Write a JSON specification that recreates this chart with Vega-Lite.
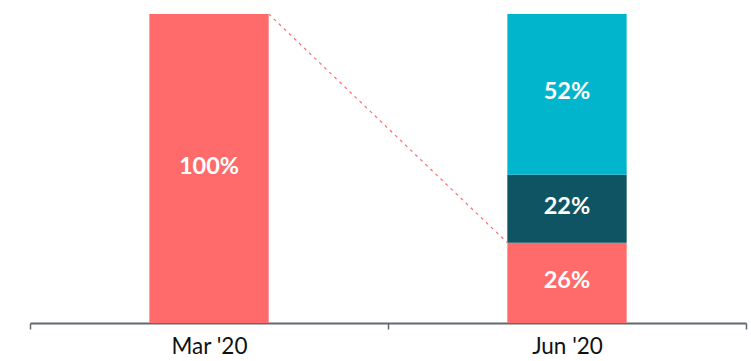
{
  "$schema": "https://vega.github.io/schema/vega-lite/v6.json",
  "width": 716,
  "height": 309,
  "autosize": {"type": "none"},
  "padding": {"left": 30, "top": 14, "right": 5, "bottom": 38},
  "background": "white",
  "config": {"view": {"stroke": null}, "font": "Lato"},
  "datasets": {
    "bars": [
      {"period": "Mar '20", "segment": "Base", "ord": 1, "value": 100, "label": "100%"},
      {"period": "Jun '20", "segment": "Base", "ord": 1, "value": 26, "label": "26%"},
      {"period": "Jun '20", "segment": "Middle", "ord": 2, "value": 22, "label": "22%"},
      {"period": "Jun '20", "segment": "Top", "ord": 3, "value": 52, "label": "52%"}
    ],
    "link": [
      {"from": "Mar '20", "to": "Jun '20", "start": 100, "end": 26}
    ]
  },
  "layer": [
    {
      "data": {"name": "bars"},
      "mark": {"type": "bar", "width": {"band": 0.3333}},
      "encoding": {
        "x": {"field": "period", "type": "nominal",
              "scale": {"domain": ["Mar '20", "Jun '20"], "paddingInner": 0, "paddingOuter": 0},
              "axis": {"title": null, "labelAngle": 0, "tickBand": "extent", "domainColor": "#5f6b6d", "tickColor": "#5f6b6d", "domainWidth": 2, "tickWidth": 1.5, "tickSize": 6, "labelFontSize": 22.5, "labelColor": "#111111", "labelPadding": 6, "labelFont": "Lato"}},
        "y": {"field": "value", "type": "quantitative", "stack": "zero", "scale": {"domain": [0, 100]}, "axis": null},
        "color": {"field": "segment", "type": "nominal", "scale": {"domain": ["Base", "Middle", "Top"], "range": ["#FF6B6B", "#0E5463", "#00B5CC"]}, "legend": null},
        "order": {"field": "ord", "type": "quantitative"}
      }
    },
    {
      "data": {"name": "bars"},
      "mark": {"type": "text", "color": "white", "fontSize": 23.5, "fontWeight": "bold", "font": "Lato", "baseline": "middle", "dy": -2},
      "encoding": {
        "x": {"field": "period", "type": "nominal"},
        "y": {"field": "value", "type": "quantitative", "stack": "zero", "bandPosition": 0.5},
        "detail": {"field": "segment"},
        "order": {"field": "ord", "type": "quantitative"},
        "text": {"field": "label"}
      }
    },
    {
      "data": {"name": "link"},
      "mark": {"type": "rule", "color": "#FF6B6B", "strokeDash": [3, 4], "strokeWidth": 1.2},
      "encoding": {
        "x": {"field": "from", "type": "nominal", "bandPosition": 0.6667},
        "x2": {"field": "to", "bandPosition": 0.3333},
        "y": {"field": "start", "type": "quantitative"},
        "y2": {"field": "end"}
      }
    }
  ]
}
